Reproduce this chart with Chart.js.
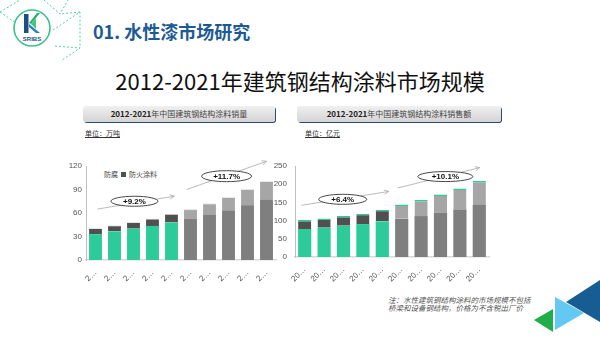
<!DOCTYPE html>
<html>
<head>
<meta charset="utf-8">
<script src="https://cdn.jsdelivr.net/npm/chart.js@4"></script>
<style>
  body { margin: 0; width: 600px; height: 338px; background: #fff; position: relative; overflow: hidden;
         font-family: "Noto Sans CJK SC", "Liberation Sans", sans-serif; }
  .abs { position: absolute; }
  #header { left: 93px; top: 18px; font-size: 18px; font-weight: bold; color: #1d5a94; white-space: nowrap; }
  #title { left: 0; width: 600px; top: 64px; text-align: center; font-size: 22px; color: #111; white-space: nowrap; }
  .subbox { height: 16px; top: 106px; border-radius: 3px; background: linear-gradient(#f0f0f0, #d4d4d4);
            box-shadow: 1px 1px 0 #2f4a6e; font-size: 8px; font-weight: bold; color: #222; text-align: center;
            line-height: 16px; white-space: nowrap; }
  .subbox span { font-weight: normal; color: #444; }
  .unit { top: 128px; font-size: 7px; color: #333; text-decoration: underline; white-space: nowrap; }
  #legend { left: 104px; top: 169px; font-size: 7px; color: #444; white-space: nowrap; }
  #legend i { display: inline-block; width: 5px; height: 5px; background: #505050; margin: 0 3px; vertical-align: 0; }
  #note { left: 388px; top: 296px; font-size: 7.5px; line-height: 8px; color: #555; font-style: italic; white-space: nowrap; }
  canvas { position: absolute; }
</style>
</head>
<body>
<svg class="abs" style="left:0;top:0" width="600" height="338">
  <g stroke="#4fd4a4" stroke-width="1" stroke-dasharray="2,2" fill="none">
    <path d="M0 12 L20 0 M0 12 L26 30 M44 0 L60 14 L68 0 M53 30 L80 12 L80 48 M80 12 L60 14 M55 46 L80 48 L62 60"/>
  </g>
  <circle cx="32" cy="28" r="18" fill="#fff" stroke="#3cc28c" stroke-width="1.6"/>
  <rect x="24" y="14" width="4.5" height="19" fill="#1d4f86"/>
  <polygon points="29,23 37,13 40,13 31,24" fill="#25b06e"/>
  <polygon points="29,24 40,33 36,33 29,27" fill="#2a7fc0"/>
  <polygon points="31,24 36,18 36,29" fill="#49c47c"/>
  <text x="32" y="41" font-size="6" font-weight="bold" fill="#1d4f86" text-anchor="middle" font-family="Liberation Sans">SRIBS</text>
  <polygon points="566,302 600,280 600,322" fill="#175d93"/>
  <polygon points="555,297 555,330 584,313" fill="#63c9f2"/>
  <polygon points="534,320 553,309 553,332" fill="#1fae4a"/>
</svg>

<div id="header" class="abs">01. 水性漆市场研究</div>
<div id="title" class="abs">2012-2021年建筑钢结构涂料市场规模</div>
<div class="abs subbox" style="left:83px;width:192px">2012-2021<span>年中国建筑钢结构涂料销量</span></div>
<div class="abs subbox" style="left:297px;width:204px">2012-2021<span>年中国建筑钢结构涂料销售额</span></div>
<div class="abs unit" style="left:85px">单位：万吨</div>
<div class="abs unit" style="left:305px">单位：亿元</div>
<div id="legend" class="abs">防腐<i></i>防火涂料</div>
<div id="note" class="abs">注：水性建筑钢结构涂料的市场规模不包括<br>桥梁和设备钢结构，价格为不含税出厂价</div>

<canvas id="volChart" width="245" height="140" style="left:40px;top:150px;width:245px;height:140px"></canvas>
<canvas id="salesChart" width="245" height="140" style="left:255px;top:150px;width:245px;height:140px"></canvas>

<script>
const years = ['2012', '2013', '2014', '2015', '2016', '2017', '2018', '2019', '2020', '2021'];

// 销量 (万吨)
const volumeBase = [33, 36.5, 40, 43.5, 48, 52.5, 57.5, 63.5, 70, 77.5];
const volumeTop = [8, 8, 8.5, 9.5, 11, 12.5, 15, 17, 20.5, 23.5];

// 销售额 (亿元)
const salesBase = [77, 80.5, 86, 90.5, 98, 105, 112.5, 122.5, 131, 143];
const salesTop = [24.5, 25.5, 26.5, 28.5, 32, 39, 44, 49.5, 57.5, 66];

const volumeGrowth = ['+9.2%', '+11.7%'];
const salesGrowth = ['+6.4%', '+10.1%'];

const histCount = 5;
const green = '#2dca9a';
const darkGray = '#505050';
const midGray = '#7f7f7f';
const lightGray = '#a6a6a6';

function colorsFor(histColor, foreColor) {
    return years.map((y, i) => i < histCount ? histColor : foreColor);
}

// 增长率标注：箭头 + 椭圆
const growthPlugin = {
    id: 'growth',
    afterDatasetsDraw(chart, args, opts) {
        const ctx = chart.ctx;
        const xs = chart.scales.x, ys = chart.scales.y;
        opts.items.forEach(item => {
            const x1 = xs.getPixelForValue(item.from[0]), y1 = ys.getPixelForValue(item.from[1]);
            const x2 = xs.getPixelForValue(item.to[0]), y2 = ys.getPixelForValue(item.to[1]);
            ctx.save();
            ctx.strokeStyle = '#aaaaaa';
            ctx.lineWidth = 0.8;
            ctx.beginPath();
            ctx.moveTo(x1, y1);
            ctx.lineTo(x2, y2);
            const ang = Math.atan2(y2 - y1, x2 - x1);
            ctx.moveTo(x2 - 5 * Math.cos(ang - 0.45), y2 - 5 * Math.sin(ang - 0.45));
            ctx.lineTo(x2, y2);
            ctx.lineTo(x2 - 5 * Math.cos(ang + 0.45), y2 - 5 * Math.sin(ang + 0.45));
            ctx.stroke();

            const cx = xs.getPixelForValue(item.at[0]), cy = ys.getPixelForValue(item.at[1]);
            ctx.beginPath();
            ctx.ellipse(cx, cy, item.w / 2, item.h / 2, 0, 0, Math.PI * 2);
            ctx.fillStyle = '#fff';
            ctx.fill();
            ctx.strokeStyle = '#333';
            ctx.lineWidth = 0.9;
            ctx.stroke();
            ctx.fillStyle = '#111';
            ctx.font = 'bold 8px "Liberation Sans", Arial';
            ctx.textAlign = 'center';
            ctx.textBaseline = 'middle';
            ctx.fillText(item.text, cx, cy + 0.5);
            ctx.restore();
        });
    }
};

function makeChart(canvasId, base, top, yMax, yStep, growth, layout) {
    return new Chart(document.getElementById(canvasId), {
        type: 'bar',
        data: {
            labels: years,
            datasets: [
                {
                    data: base,
                    backgroundColor: colorsFor(green, midGray),
                    barPercentage: 0.68,
                    categoryPercentage: 1
                },
                {
                    data: top,
                    backgroundColor: colorsFor(darkGray, lightGray),
                    borderColor: layout.topLine ? green : '#e6e6e6',
                    borderWidth: { top: layout.topLine ? 1.5 : 1, left: 0, right: 0, bottom: 0 },
                    borderSkipped: false,
                    barPercentage: 0.68,
                    categoryPercentage: 1
                }
            ]
        },
        options: {
            responsive: false,
            animation: false,
            devicePixelRatio: 1,
            layout: { padding: layout.padding },
            plugins: {
                legend: { display: false },
                tooltip: { enabled: false },
                growth: { items: growth }
            },
            scales: {
                x: {
                    stacked: true,
                    grid: { display: false, drawTicks: false },
                    border: { color: '#d9d9d9', width: 1.5 },
                    ticks: {
                        color: '#555',
                        font: { size: 8, family: '"Liberation Sans", Arial' },
                        autoSkip: false,
                        minRotation: 45,
                        maxRotation: 45,
                        padding: 8,
                        callback: function (v) { return this.getLabelForValue(v).slice(0, layout.keep) + '…'; }
                    },
                    afterFit: s => { s.height = 28; }
                },
                y: {
                    stacked: true,
                    min: 0,
                    max: yMax,
                    grid: { display: false, drawTicks: false },
                    border: { color: '#bfbfbf' },
                    ticks: {
                        stepSize: yStep,
                        color: '#555',
                        padding: layout.tickPad,
                        font: { size: 8, family: '"Liberation Sans", Arial' }
                    },
                    afterFit: s => { s.width = layout.yWidth; }
                }
            }
        },
        plugins: [growthPlugin]
    });
}

makeChart('volChart', volumeBase, volumeTop, 120, 30, [
    { text: volumeGrowth[0], from: [0.1, 65], to: [4.15, 81.5], at: [2.05, 75], w: 47, h: 10 },
    { text: volumeGrowth[1], from: [4.8, 90], to: [9.0, 126], at: [6.9, 107], w: 50, h: 11 }
], { padding: { left: 6, right: 9, top: 16, bottom: 2 }, yWidth: 40, tickPad: 4, keep: 1, topLine: false });

makeChart('salesChart', salesBase, salesTop, 250, 50, [
    { text: salesGrowth[0], from: [-0.17, 142], to: [4.33, 180], at: [1.96, 158.5], w: 48, h: 10 },
    { text: salesGrowth[1], from: [4.79, 189.5], to: [9.02, 245.5], at: [7.25, 221], w: 55, h: 10 }
], { padding: { left: 2, right: 11, top: 16, bottom: 5 }, yWidth: 38, tickPad: 8, keep: 2, topLine: true });
</script>
</body>
</html>
